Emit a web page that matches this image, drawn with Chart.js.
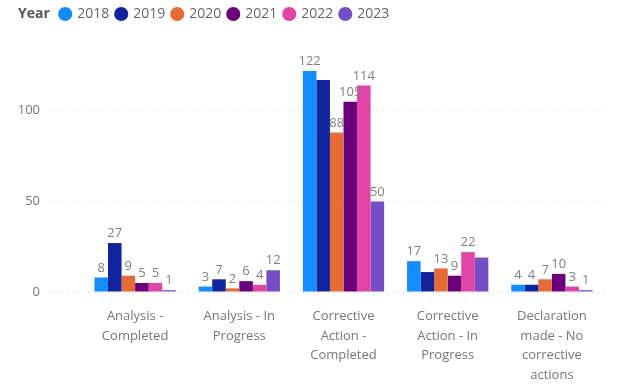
<!DOCTYPE html>
<html>
<head>
<meta charset="utf-8">
<script src="https://cdn.jsdelivr.net/npm/chart.js@4.4.1/dist/chart.umd.min.js"></script>
<style>
  html, body { margin: 0; padding: 0; background: #fff; }
  #wrap { width: 620px; height: 384px; }
</style>
</head>
<body>
<div id="wrap"><canvas id="chart" width="620" height="384"></canvas></div>
<script>
// 数据
const categories = [
    'Analysis - Completed',
    'Analysis - In Progress',
    'Corrective Action - Completed',
    'Corrective Action - In Progress',
    'Declaration made - No corrective actions'
];
const years = ['2018', '2019', '2020', '2021', '2022', '2023'];
const v2018 = [8, 3, 122, 17, 4];
const v2019 = [27, 7, 117, 11, 4];
const v2020 = [9, 2, 88, 13, 7];
const v2021 = [5, 6, 105, 9, 10];
const v2022 = [5, 4, 114, 22, 3];
const v2023 = [1, 12, 50, 19, 1];
const yTicks = [0, 50, 100];
// labels the original hides because they collide: [year index, category index]
const hiddenLabels = [[1, 2], [1, 3], [5, 3]];

const colors = ['#118DFF', '#12239E', '#E66C37', '#6B007B', '#E044A7', '#744EC2'];
const seriesValues = [v2018, v2019, v2020, v2021, v2022, v2023];
const FONT = "'Open Sans', 'Noto Sans', sans-serif";

// 把长类目名折成多行
function wrapLabel(text, maxChars) {
    const words = text.split(' ');
    const lines = [];
    let line = '';
    for (let w of words) {
        if (line === '') { line = w; continue; }
        if ((line + ' ' + w).length <= maxChars) line += ' ' + w;
        else { lines.push(line); line = w; }
    }
    if (line) lines.push(line);
    return lines;
}

const isHidden = (d, i) => hiddenLabels.some(h => h[0] === d && h[1] === i);

// 柱顶数值标签
const barLabels = {
    id: 'barLabels',
    afterDatasetsDraw(chart) {
        const ctx = chart.ctx;
        ctx.save();
        ctx.font = '13px ' + FONT;
        ctx.fillStyle = '#808080';
        ctx.textAlign = 'center';
        ctx.textBaseline = 'bottom';
        chart.data.datasets.forEach((ds, d) => {
            const meta = chart.getDatasetMeta(d);
            meta.data.forEach((bar, i) => {
                if (isHidden(d, i)) return;
                ctx.fillText(ds.data[i], bar.x, bar.y - 3);
            });
        });
        ctx.restore();
    }
};

// 图例前面的粗体 "Year"
const legendTitle = {
    id: 'legendTitle',
    afterDraw(chart) {
        const box = chart.legend.legendHitBoxes[0];
        if (!box) return;
        const ctx = chart.ctx;
        ctx.save();
        ctx.font = 'bold 14px ' + FONT;
        ctx.fillStyle = '#555';
        ctx.textBaseline = 'middle';
        ctx.fillText('Year', box.left + 11, box.top + box.height / 2);
        ctx.restore();
    }
};

const ctx = document.getElementById('chart').getContext('2d');
new Chart(ctx, {
    type: 'bar',
    data: {
        labels: categories.map(c => wrapLabel(c, 13)),
        datasets: years.map((y, k) => ({
            label: y,
            data: seriesValues[k],
            backgroundColor: colors[k],
            borderWidth: 0,
            categoryPercentage: 0.78,
            barPercentage: 1.0
        }))
    },
    options: {
        responsive: false,
        animation: false,
        layout: { padding: { left: 0, right: 16, top: 0, bottom: 0 } },
        plugins: {
            tooltip: { enabled: false },
            legend: {
                position: 'top',
                align: 'start',
                onClick: () => {},
                labels: {
                    usePointStyle: true,
                    boxWidth: 10,
                    boxHeight: 10,
                    padding: 7,
                    color: '#666',
                    font: { family: FONT, size: 14 },
                    generateLabels(chart) {
                        const items = chart.data.datasets.map((ds, k) => ({
                            text: ds.label,
                            fillStyle: ds.backgroundColor,
                            strokeStyle: ds.backgroundColor,
                            fontColor: '#666',
                            lineWidth: 0,
                            pointStyle: 'circle',
                            hidden: false,
                            datasetIndex: k
                        }));
                        items.unshift({
                            text: 'Year',
                            fillStyle: 'rgba(0,0,0,0)',
                            strokeStyle: 'rgba(0,0,0,0)',
                            fontColor: 'rgba(0,0,0,0)',
                            lineWidth: 0,
                            pointStyle: 'circle',
                            hidden: false,
                            datasetIndex: -1
                        });
                        return items;
                    }
                }
            }
        },
        scales: {
            x: {
                grid: { display: false, drawTicks: false },
                border: { display: false },
                ticks: {
                    color: '#777',
                    padding: 15,
                    maxRotation: 0,
                    autoSkip: false,
                    font: { family: FONT, size: 13, lineHeight: 1.5 }
                },
                afterFit(scale) { scale.height = 92; }
            },
            y: {
                min: 0,
                max: 144,
                border: { display: false, dash: [1, 4] },
                grid: {
                    color: '#cfcfcf',
                    lineWidth: 1,
                    tickBorderDash: [1, 4],
                    tickLength: 35,
                    drawTicks: true
                },
                ticks: {
                    color: '#777',
                    padding: 8,
                    stepSize: 50,
                    font: { family: FONT, size: 13 }
                },
                afterBuildTicks(scale) {
                    scale.ticks = yTicks.map(v => ({ value: v }));
                },
                afterFit(scale) { scale.width = 83; }
            }
        }
    },
    plugins: [barLabels, legendTitle]
});
</script>
</body>
</html>
